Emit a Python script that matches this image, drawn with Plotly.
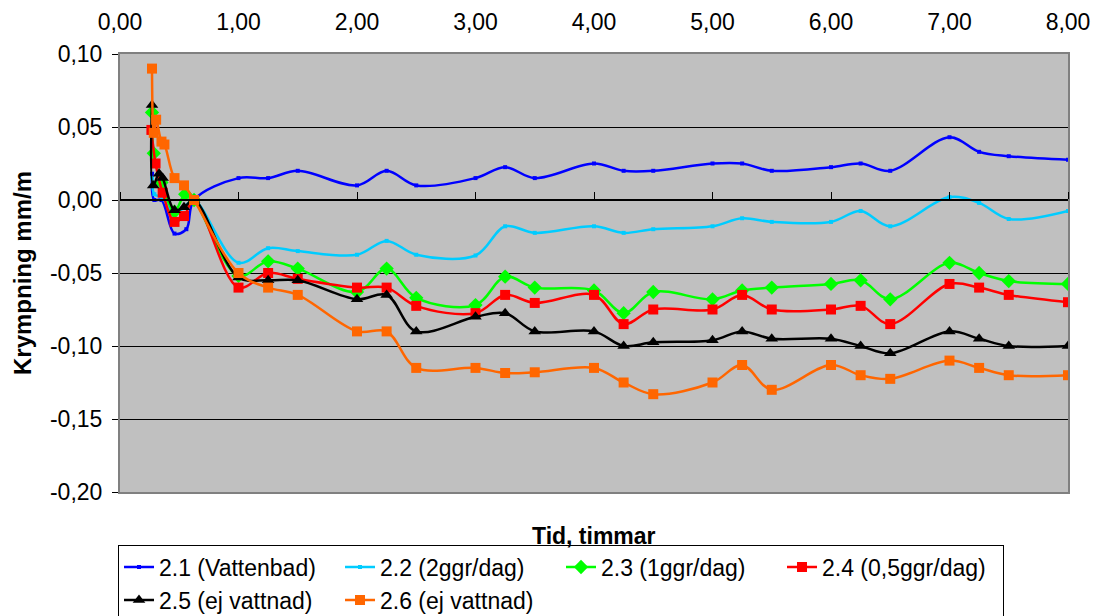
import plotly.graph_objects as go

# Measurement times (hours) and shrinkage (mm/m) for each specimen
t_21 = [0.27, 0.29, 0.35, 0.46, 0.56, 0.625,
        1.0, 1.25, 1.5, 2.0, 2.25, 2.5, 3.0, 3.25, 3.5, 4.0, 4.25, 4.5,
        5.0, 5.25, 5.5, 6.0, 6.25, 6.5, 7.0, 7.25, 7.5, 8.0]
s_21 = [0.018, 0.0, 0.0, -0.023, -0.020, 0.0,
        0.015, 0.015, 0.020, 0.010, 0.020, 0.010, 0.015, 0.0225, 0.015, 0.025, 0.020, 0.020,
        0.025, 0.025, 0.020, 0.0225, 0.025, 0.020, 0.043, 0.033, 0.030, 0.0275]

t_22 = [0.27, 0.29, 0.35, 0.46, 0.55, 0.625,
        1.0, 1.25, 1.5, 2.0, 2.25, 2.5, 3.0, 3.25, 3.5, 4.0, 4.25, 4.5,
        5.0, 5.25, 5.5, 6.0, 6.25, 6.5, 7.0, 7.25, 7.5, 8.0]
s_22 = [0.015, 0.004, 0.002, -0.010, -0.004, 0.0,
        -0.043, -0.033, -0.035, -0.0375, -0.028, -0.0375, -0.038, -0.018, -0.0225, -0.018, -0.0225, -0.020,
        -0.018, -0.0125, -0.015, -0.015, -0.0075, -0.018, 0.002, -0.002, -0.013, -0.0075]

t_23 = [0.27, 0.285, 0.35, 0.46, 0.55, 0.625,
        1.0, 1.25, 1.5, 2.0, 2.25, 2.5, 3.0, 3.25, 3.5, 4.0, 4.25, 4.5,
        5.0, 5.25, 5.5, 6.0, 6.25, 6.5, 7.0, 7.25, 7.5, 8.0]
s_23 = [0.060, 0.032, 0.012, -0.008, 0.004, 0.0,
        -0.052, -0.042, -0.047, -0.063, -0.047, -0.067, -0.072, -0.0525, -0.060, -0.062, -0.0775, -0.063,
        -0.068, -0.062, -0.060, -0.0575, -0.055, -0.068, -0.043, -0.050, -0.0555, -0.0575]

t_24 = [0.265, 0.30, 0.36, 0.46, 0.54, 0.625,
        1.0, 1.25, 1.5, 2.0, 2.25, 2.5, 3.0, 3.25, 3.5, 4.0, 4.25, 4.5,
        5.0, 5.25, 5.5, 6.0, 6.25, 6.5, 7.0, 7.25, 7.5, 8.0]
s_24 = [0.048, 0.025, 0.005, -0.015, -0.011, 0.0,
        -0.060, -0.050, -0.054, -0.060, -0.060, -0.0725, -0.0775, -0.065, -0.0705, -0.065, -0.085, -0.075,
        -0.075, -0.065, -0.075, -0.075, -0.0725, -0.085, -0.0575, -0.060, -0.065, -0.070]

t_25 = [0.27, 0.28, 0.33, 0.36, 0.46, 0.54, 0.625,
        1.0, 1.25, 1.5, 2.0, 2.25, 2.5, 3.0, 3.25, 3.5, 4.0, 4.25, 4.5,
        5.0, 5.25, 5.5, 6.0, 6.25, 6.5, 7.0, 7.25, 7.5, 8.0]
s_25 = [0.065, 0.010, 0.018, 0.015, -0.007, -0.005, 0.0,
        -0.053, -0.055, -0.055, -0.068, -0.065, -0.090, -0.080, -0.0775, -0.090, -0.090, -0.100, -0.0975,
        -0.096, -0.090, -0.095, -0.095, -0.100, -0.105, -0.090, -0.095, -0.100, -0.100]

t_26 = [0.27, 0.285, 0.305, 0.35, 0.375, 0.46, 0.54, 0.625,
        1.0, 1.25, 1.5, 2.0, 2.25, 2.5, 3.0, 3.25, 3.5, 4.0, 4.25, 4.5,
        5.0, 5.25, 5.5, 6.0, 6.25, 6.5, 7.0, 7.25, 7.5, 8.0]
s_26 = [0.090, 0.046, 0.055, 0.040, 0.038, 0.015, 0.010, 0.0,
        -0.050, -0.060, -0.065, -0.090, -0.090, -0.115, -0.115, -0.1185, -0.118, -0.115, -0.125, -0.133,
        -0.125, -0.113, -0.130, -0.113, -0.120, -0.1225, -0.110, -0.115, -0.120, -0.120]

series_names = ["2.1 (Vattenbad)", "2.2 (2ggr/dag)", "2.3 (1ggr/dag)",
                "2.4 (0,5ggr/dag)", "2.5 (ej vattnad)", "2.6 (ej vattnad)"]

x_tick_vals = [0, 1, 2, 3, 4, 5, 6, 7, 8]
x_tick_text = ["0,00", "1,00", "2,00", "3,00", "4,00", "5,00", "6,00", "7,00", "8,00"]
y_tick_vals = [-0.20, -0.15, -0.10, -0.05, 0.0, 0.05, 0.10]
y_tick_text = ["-0,20", "-0,15", "-0,10", "-0,05", "0,00", "0,05", "0,10"]

FONT = "Liberation Sans, Arial, sans-serif"

styles = [
    dict(color="#0000FF", symbol="square", size=4),
    dict(color="#00CCFF", symbol="square", size=4),
    dict(color="#00FF00", symbol="diamond", size=11),
    dict(color="#FF0000", symbol="square", size=10),
    dict(color="#000000", symbol="triangle-up", size=11),
    dict(color="#FF6600", symbol="square", size=10),
]
data = [(t_21, s_21), (t_22, s_22), (t_23, s_23), (t_24, s_24), (t_25, s_25), (t_26, s_26)]

fig = go.Figure()
for (tx, sy), name, st in zip(data, series_names, styles):
    fig.add_trace(go.Scatter(
        x=tx, y=sy, name=name, mode="lines+markers",
        line=dict(color=st["color"], width=2.5, shape="spline", smoothing=1),
        marker=dict(color=st["color"], symbol=st["symbol"], size=st["size"], line=dict(width=0)),
    ))

# empty trace that carries the axis drawn through y = 0
fig.add_trace(go.Scatter(x=[], y=[], xaxis="x2", showlegend=False, hoverinfo="skip"))

fig.update_layout(
    width=1095, height=616,
    margin=dict(l=120, r=27, t=54, b=124, autoexpand=False),
    paper_bgcolor="white",
    plot_bgcolor="#C0C0C0",
    font=dict(family=FONT, size=23, color="black"),
    showlegend=True,
    xaxis=dict(
        range=[0, 8], side="top", tickvals=x_tick_vals, ticktext=x_tick_text,
        ticks="", showgrid=False, zeroline=False,
        showline=True, linecolor="#808080", linewidth=2, mirror=True,
        ticklabelstandoff=13, tickfont=dict(size=23),
    ),
    xaxis2=dict(
        range=[0, 8], overlaying="x", anchor="free", position=2 / 3, side="top",
        tickvals=x_tick_vals, ticks="outside", ticklen=7, tickwidth=1, tickcolor="black",
        showticklabels=False, showgrid=False, zeroline=False,
        showline=True, linecolor="black", linewidth=1.5,
    ),
    yaxis=dict(
        range=[-0.2, 0.1], tickvals=y_tick_vals, ticktext=y_tick_text,
        ticks="outside", ticklen=6, tickwidth=1, tickcolor="black",
        showgrid=True, gridcolor="black", gridwidth=1, zeroline=False,
        showline=True, linecolor="#808080", linewidth=2, mirror=True,
        ticklabelstandoff=5, tickfont=dict(size=23),
    ),
    legend=dict(
        orientation="h", x=-0.0021, xanchor="left", y=-0.12, yanchor="top",
        bgcolor="white", bordercolor="black", borderwidth=1,
        entrywidth=176, entrywidthmode="pixels",
        font=dict(family=FONT, size=23), itemwidth=30, traceorder="normal",
    ),
    annotations=[
        dict(text="<b>Krympning mm/m</b>", xref="paper", yref="paper", x=0, y=0.5,
             xshift=-98, textangle=-90, showarrow=False, font=dict(size=24),
             xanchor="center", yanchor="middle"),
        dict(text="<b>Tid, timmar</b>", xref="paper", yref="paper", x=0.5, y=0,
             yshift=-44, showarrow=False, font=dict(size=23),
             xanchor="center", yanchor="middle"),
    ],
)

fig.write_html("out.html")
